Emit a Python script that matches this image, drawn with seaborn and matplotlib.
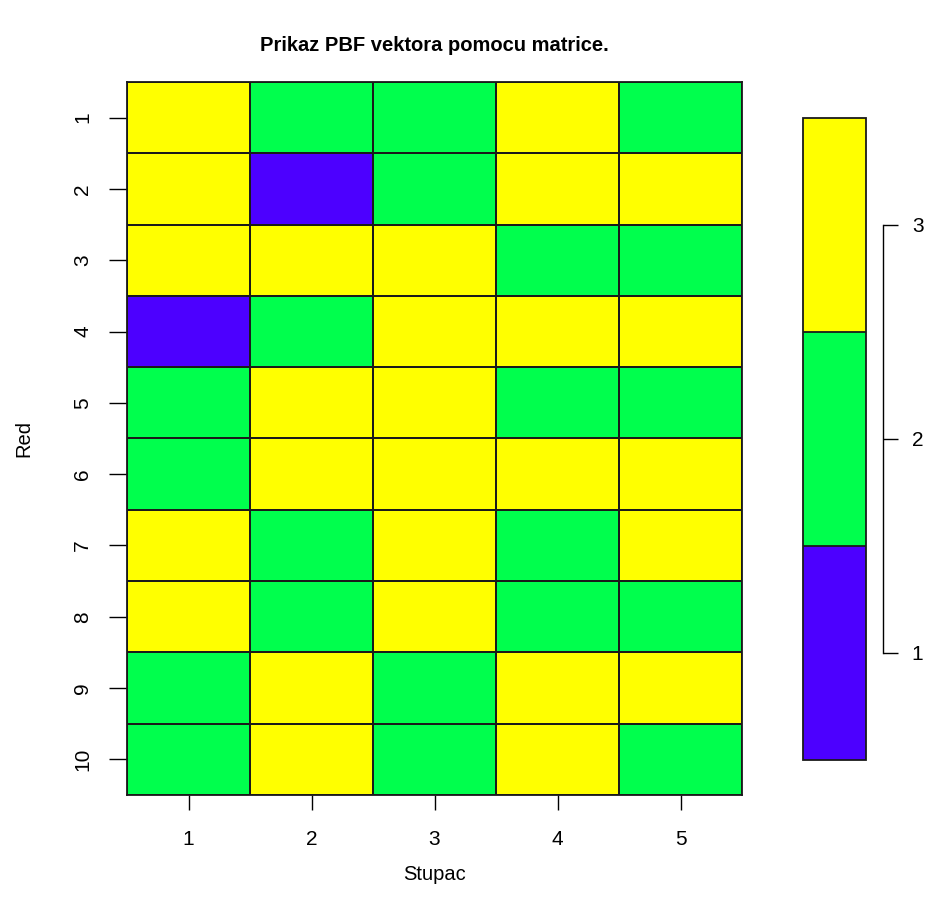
import numpy as np
import pandas as pd
import seaborn as sns
import matplotlib.pyplot as plt
from matplotlib.colors import ListedColormap

rows = ["1", "2", "3", "4", "5", "6", "7", "8", "9", "10"]
cols = ["1", "2", "3", "4", "5"]
values = [
    [3, 2, 2, 3, 2],
    [3, 1, 2, 3, 3],
    [3, 3, 3, 2, 2],
    [1, 2, 3, 3, 3],
    [2, 3, 3, 2, 2],
    [2, 3, 3, 3, 3],
    [3, 2, 3, 2, 3],
    [3, 2, 3, 2, 2],
    [2, 3, 2, 3, 3],
    [2, 3, 2, 3, 2],
]
levels = [1, 2, 3]
colors = ["#4C00FF", "#00FF4D", "#FFFF00"]

df = pd.DataFrame(values, index=rows, columns=cols)

plt.rcParams['font.family'] = ['Liberation Sans', 'DejaVu Sans']

W, H = 931, 915
fig = plt.figure(figsize=(W / 100, H / 100), dpi=100)
ax = fig.add_axes([127 / W, 1 - 795 / H, 615 / W, 713 / H])
cax = fig.add_axes([803 / W, 1 - 760 / H, 63 / W, 642 / H])

sns.heatmap(df, cmap=ListedColormap(colors), vmin=0.5, vmax=3.5,
            linewidths=1.3, linecolor='#1a1a1a', ax=ax, cbar_ax=cax,
            cbar_kws={'ticks': levels, 'drawedges': True})

for s in ax.spines.values():
    s.set_visible(True)
    s.set_linewidth(1.3)
    s.set_color('#1a1a1a')

ax.tick_params(axis='x', length=11, width=1, pad=14, labelsize=15, rotation=0)
ax.tick_params(axis='y', length=13, width=1, pad=12, labelsize=15)
for t in ax.get_yticklabels():
    t.set_rotation(90)
    t.set_va('center')

ax.set_xlabel("Stupac", fontsize=14.5, labelpad=12)
ax.set_ylabel("Red", fontsize=14.5, labelpad=29)
ax.set_title("Prikaz PBF vektora pomocu matrice.", fontsize=14.5,
             fontweight='bold', pad=22)

cbar = ax.collections[0].colorbar
cbar.outline.set_linewidth(1.3)
cbar.outline.set_edgecolor('#1a1a1a')
cbar.dividers.set_color('#1a1a1a')
cbar.dividers.set_linewidth(1.3)
sp = cax.spines['right']
sp.set_visible(True)
sp.set_position(('outward', 12))
sp.set_bounds(1, 3)
sp.set_linewidth(1)
cax.tick_params(axis='y', length=11, width=1, pad=10, labelsize=15)

fig.savefig("out.png", dpi=100, facecolor='white')
